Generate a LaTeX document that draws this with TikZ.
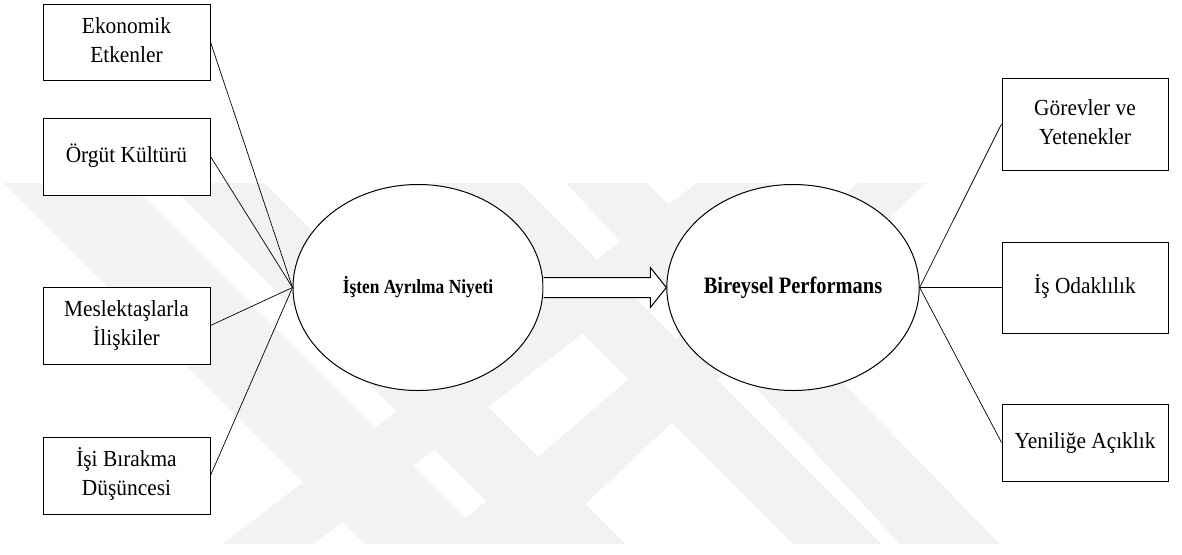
\documentclass[tikz,border=0pt]{standalone}
\usepackage{fontspec}
\setmainfont{Liberation Serif}
\usetikzlibrary{shapes.geometric,calc}
\newcommand\nodetxt[1]{\scalebox{0.93}[1]{\begin{tabular}{@{}c@{}}#1\end{tabular}}}
\newcommand\boldtxt[2]{\scalebox{0.87}[1]{\bfseries\fontsize{#1}{#1}\selectfont #2}}
\begin{document}
\begin{tikzpicture}[x=1pt,y=-1pt,
  factor/.style={draw=black,line width=1pt,fill=white,rectangle,inner sep=0pt,
    minimum width=167pt,font=\fontsize{23}{29}\selectfont},
  latent/.style={draw=black,line width=1pt,fill=white,ellipse,inner sep=0pt,
    minimum width=250pt,minimum height=206pt},
  link/.style={draw=black,line width=0.7pt},
  wm/.style={fill=black!5,draw=none}]
\useasboundingbox (0,0) rectangle (1182,554);
% faint watermark
\begin{scope}
\clip (0,183) rectangle (1182,544);
\fill[wm] (4,183) -- (130,183) -- (491,544) -- (365,544) -- cycle;
\fill[wm] (168,183) -- (264,183) -- (625,544) -- (529,544) -- cycle;
\fill[wm] (432,183) -- (520,183) -- (881,544) -- (793,544) -- cycle;
\fill[wm] (566,183) -- (647,183) -- (1000,544) -- (900,544) -- cycle;
\fill[wm] (222,544) -- (314,544) -- (774,183) -- (697,183) -- cycle;
\fill[wm] (436,544) -- (543,544) -- (926,183) -- (858,183) -- cycle;
\end{scope}
% nodes
\node[factor,minimum height=76pt] (f1) at (126.5,42) {\nodetxt{Ekonomik\\Etkenler}};
\node[factor,minimum height=77pt] (f2) at (126.5,156.5) {\nodetxt{Örgüt Kültürü}};
\node[factor,minimum height=77pt] (f3) at (126.5,325.5) {\nodetxt{Meslektaşlarla\\İlişkiler}};
\node[factor,minimum height=77pt] (f4) at (126.5,475.5) {\nodetxt{İşi Bırakma\\Düşüncesi}};
\node[latent] (e1) at (418,287.5) {\boldtxt{20}{İşten Ayrılma Niyeti}};
\node[latent] (e2) at (793,287.5) {\boldtxt{23.5}{Bireysel Performans}};
\node[factor,minimum width=166pt,minimum height=92pt] (g1) at (1085,124) {\nodetxt{Görevler ve\\Yetenekler}};
\node[factor,minimum width=166pt,minimum height=91pt] (g2) at (1085,287.5) {\nodetxt{İş Odaklılık}};
\node[factor,minimum width=166pt,minimum height=77pt] (g3) at (1085,442.5) {\nodetxt{Yeniliğe Açıklık}};
% connectors
\foreach \f in {f1,f2,f3,f4} \draw[link] (\f.east) -- (e1.west);
\foreach \g in {g1,g2,g3} \draw[link] (e2.east) -- (\g.west);
% block arrow
\draw[line width=1pt,fill=white]
  ($(e1.east)+(0,-10)$) -- ($(e2.west)+(-16,-10)$) -- ($(e2.west)+(-16,-20)$)
  -- (e2.west) -- ($(e2.west)+(-16,20)$) -- ($(e2.west)+(-16,10)$)
  -- ($(e1.east)+(0,10)$);
\end{tikzpicture}
\end{document}
